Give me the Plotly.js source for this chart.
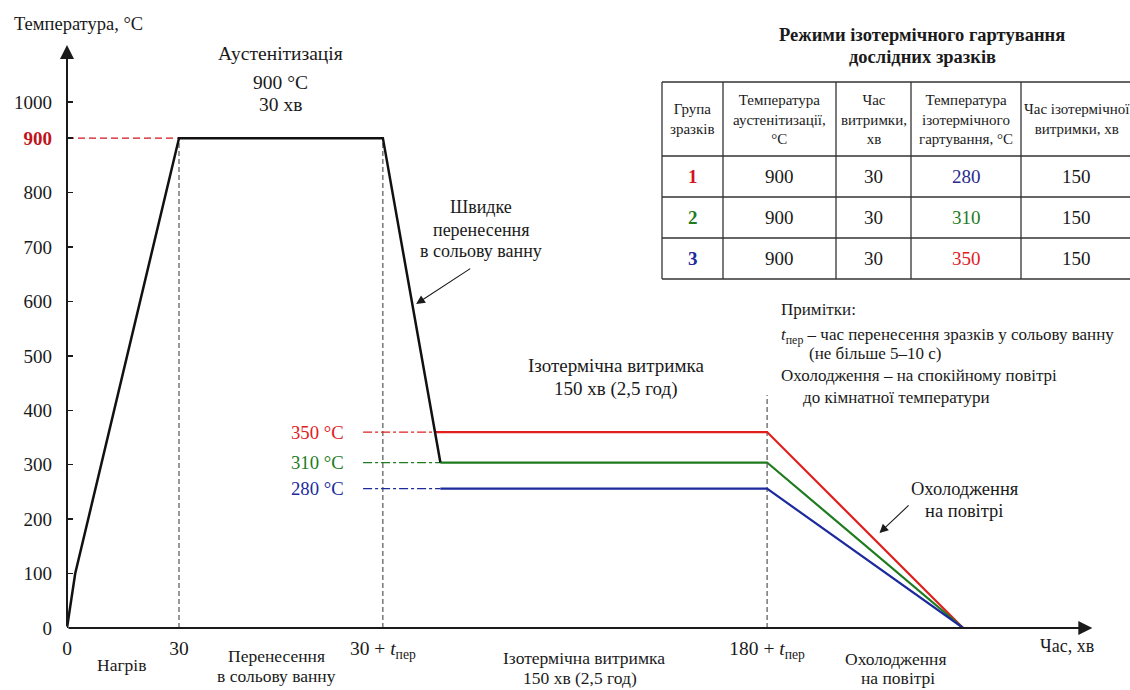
<!DOCTYPE html>
<html>
<head>
<meta charset="utf-8">
<script src="https://cdn.plot.ly/plotly-3.0.1.min.js"></script>
<style>html,body{margin:0;padding:0;background:#fff;}</style>
</head>
<body>
<div id="chart" style="width:1130px;height:690px;"></div>
<script>
// ---- data (schematic chart, positions) ----
const timeTickVals = [0, 30, 84.6, 187.5];
const timeTickText = ['0', '30', '30 + <i>t</i><sub>пер</sub>', '180 + <i>t</i><sub>пер</sub>'];
const tempTickVals = [0, 100, 200, 300, 400, 500, 600, 700, 800, 900, 966];
const tempTickText = ['0', '100', '200', '300', '400', '500', '600', '700', '800',
  '<span style="color:#c0141c"><b>900</b></span>', '1000'];

const heatTime = [0, 2.2, 30, 84.6, 100];
const heatTemp = [0, 100, 900, 900, 304];

const isoLevels = [360, 304, 256];            // drawn levels (red, green, blue)
const isoLabels = ['350 °C', '310 °C', '280 °C'];
const isoColors = ['#e0201f', '#1e7b1e', '#1c2a9c'];
const isoStart = [98.6, 100, 100];
const isoEndTime = 187.5;
const coolEndTime = 240;
const guideStart = 79.3;

const tableHeader = ['Група<br>зразків', 'Температура<br>аустенітизації,<br>°C', 'Час<br>витримки,<br>хв',
  'Температура<br>ізотермічного<br>гартування, °C', 'Час ізотермічної<br>витримки, хв'];
const groups = ['1', '2', '3'];
const groupColors = ['#d0141c', '#1e7b1e', '#1c2a9c'];
const austTemp = [900, 900, 900];
const austTime = [30, 30, 30];
const isoTemp = [280, 310, 350];
const isoTempColors = ['#2a2a90', '#1e7b1e', '#e0201f'];
const isoTime = [150, 150, 150];

// ---- layout helpers (pixel -> paper) ----
const ML = 67, MT = 45, MB = 62, W = 1130, H = 690;
const PW = W - ML, PH = H - MT - MB;
function px(x) { return (x - ML) / PW; }
function py(y) { return (H - MB - y) / PH; }

const F = '"Liberation Serif", "Times New Roman", serif';
const traces = [];
// vertical guide lines
[[30, 900], [84.6, 900], [187.5, 428]].forEach(function (g) {
  traces.push({type: 'scatter', mode: 'lines', x: [g[0], g[0]], y: [0, g[1]],
    line: {color: '#333', width: 1, dash: '5px,3px'}, hoverinfo: 'skip', showlegend: false});
});
// red 900 guide
traces.push({type: 'scatter', mode: 'lines', x: [0, 30], y: [900, 900],
  line: {color: '#d0141c', width: 1.2, dash: '7px,4px'}, hoverinfo: 'skip', showlegend: false});
// coloured dash-dot guides
isoLevels.forEach(function (lv, i) {
  traces.push({type: 'scatter', mode: 'lines', x: [guideStart, isoStart[i]], y: [lv, lv],
    line: {color: isoColors[i], width: 1.2, dash: 'dashdot'}, hoverinfo: 'skip', showlegend: false});
});
// coloured holds + cooling
isoLevels.forEach(function (lv, i) {
  traces.push({type: 'scatter', mode: 'lines', x: [isoStart[i], isoEndTime, coolEndTime], y: [lv, lv, 0],
    line: {color: isoColors[i], width: 2.2}, hoverinfo: 'skip', showlegend: false});
});
// main black path
traces.push({type: 'scatter', mode: 'lines', x: heatTime, y: heatTemp,
  line: {color: '#111', width: 2.5}, hoverinfo: 'skip', showlegend: false});

// ---- annotations ----
const ann = [];
const shapes = [];
function txt(x, y, text, size, opts) {
  const a = Object.assign({x: x, y: y, xref: 'x', yref: 'y', text: text, showarrow: false,
    font: {family: F, size: size, color: '#1a1a1a'}, xanchor: 'center', yanchor: 'middle'}, opts || {});
  ann.push(a);
}
// axes with arrowheads
ann.push({x: 0, y: 1071, ax: 0, ay: 0, xref: 'x', yref: 'y', axref: 'x', ayref: 'y', text: '',
  showarrow: true, arrowhead: 2, arrowsize: 1.4, arrowwidth: 2, arrowcolor: '#1a1a1a', standoff: 0});
ann.push({x: 274.6, y: 0, ax: 0, ay: 0, xref: 'x', yref: 'y', axref: 'x', ayref: 'y', text: '',
  showarrow: true, arrowhead: 2, arrowsize: 1.4, arrowwidth: 2, arrowcolor: '#1a1a1a', standoff: 0});
// axis titles
txt(px(12), py(24), 'Температура, °C', 18.5, {xref: 'paper', yref: 'paper', xanchor: 'left'});
txt(267.9, py(646), 'Час, хв', 18, {yref: 'paper'});
// top labels
txt(57.1, 1054.6, 'Аустенітизація', 19.5);
txt(57.1, 1003, '900 °C', 19.5);
txt(57.1, 962.7, '30 хв', 19.5);
txt(110.9, 773.5, 'Швидке', 18);
txt(110.9, 731.2, 'перенесення', 18);
txt(110.9, 692.6, 'в сольову ванну', 18);
ann.push({x: 93.5, y: 595.3, ax: 108.4, ay: 662, xref: 'x', yref: 'y', axref: 'x', ayref: 'y', text: '',
  showarrow: true, arrowhead: 2, arrowsize: 1.6, arrowwidth: 1.1, arrowcolor: '#1a1a1a', standoff: 0});
txt(147, 481.4, 'Ізотермічна витримка', 19);
txt(147, 439.1, '150 хв (2,5 год)', 19);
// notes
txt(190.7, 586, 'Примітки:', 17, {xanchor: 'left'});
txt(190.7, 536.5, '<i>t</i><sub>пер</sub> – час перенесення зразків у сольову ванну', 17, {xanchor: 'left'});
txt(198.2, 505.2, '(не більше 5–10 с)', 17, {xanchor: 'left'});
txt(190.7, 463, 'Охолодження – на спокійному повітрі', 17, {xanchor: 'left'});
txt(196.6, 422.6, 'до кімнатної температури', 17, {xanchor: 'left'});
// cooling label
txt(240.5, 255.4, 'Охолодження', 18.5);
txt(240.3, 215, 'на повітрі', 18.5);
ann.push({x: 217.6, y: 174.5, ax: 225.8, ay: 227.8, xref: 'x', yref: 'y', axref: 'x', ayref: 'y', text: '',
  showarrow: true, arrowhead: 2, arrowsize: 1.6, arrowwidth: 1.1, arrowcolor: '#1a1a1a', standoff: 0});
// level labels
isoLevels.forEach(function (lv, i) {
  txt(74.7, lv, isoLabels[i], 18.7, {xanchor: 'right', font: {family: F, size: 18.7, color: isoColors[i]}});
});
// bottom phase labels
txt(14.5, py(665), 'Нагрів', 17.5, {yref: 'paper'});
txt(56.0, py(656), 'Перенесення', 17.5, {yref: 'paper'});
txt(56.0, py(676), 'в сольову ванну', 17.5, {yref: 'paper'});
txt(138.5, py(658), 'Ізотермічна витримка', 17.5, {yref: 'paper'});
txt(137.4, py(678), '150 хв (2,5 год)', 17.5, {yref: 'paper'});
txt(222.1, py(659), 'Охолодження', 17.5, {yref: 'paper'});
txt(222.6, py(678), 'на повітрі', 17.5, {yref: 'paper'});

// ---- table (grid of shapes + cell texts from the arrays) ----
const tblLeft = 662, tblTop = 82, headH = 74, rowH = 41;
const colW = [61, 113, 75, 110, 135];
const colX = [tblLeft];
colW.forEach(function (w) { colX.push(colX[colX.length - 1] + w); });
const columns = [groups, austTemp, austTime, isoTemp, isoTime];
const colColors = [groupColors, null, null, isoTempColors, null];
const rowY = [tblTop, tblTop + headH];
for (let r = 0; r < 3; r++) rowY.push(rowY[rowY.length - 1] + rowH);
const gridLine = {color: '#333', width: 1.3};
rowY.forEach(function (y) {
  shapes.push({type: 'line', xref: 'paper', yref: 'paper', x0: px(colX[0]), x1: px(colX[colX.length - 1]),
    y0: py(y), y1: py(y), line: gridLine});
});
colX.forEach(function (x) {
  shapes.push({type: 'line', xref: 'paper', yref: 'paper', x0: px(x), x1: px(x),
    y0: py(rowY[0]), y1: py(rowY[rowY.length - 1]), line: gridLine});
});
// table title
txt(px(922), py(35), '<b>Режими ізотермічного гартування</b>', 18.5, {xref: 'paper', yref: 'paper'});
txt(px(922), py(57), '<b>дослідних зразків</b>', 18.5, {xref: 'paper', yref: 'paper'});
tableHeader.forEach(function (h, c) {
  const cx = (colX[c] + colX[c + 1]) / 2;
  txt(px(c === 4 ? cx - 12 : cx), py(tblTop + headH / 2), h, 15, {xref: 'paper', yref: 'paper', align: 'center'});
});
columns.forEach(function (col, c) {
  const cx = (colX[c] + colX[c + 1]) / 2;
  col.forEach(function (v, r) {
    const color = colColors[c] ? colColors[c][r] : '#1a1a1a';
    const t = c === 0 ? '<b>' + v + '</b>' : String(v);
    txt(px(c === 4 ? cx - 12 : cx), py(rowY[r + 1] + rowH / 2), t, 19,
      {xref: 'paper', yref: 'paper', font: {family: F, size: 19, color: color}});
  });
});

const layout = {
  width: W, height: H,
  margin: {l: ML, r: 0, t: MT, b: MB, pad: 0},
  paper_bgcolor: '#fff', plot_bgcolor: '#fff',
  font: {family: F, size: 16, color: '#1a1a1a'},
  showlegend: false,
  xaxis: {range: [0, 284.7], showgrid: false, zeroline: false, showline: false,
    tickmode: 'array', tickvals: timeTickVals, ticktext: timeTickText, ticks: '',
    tickfont: {family: F, size: 19.5, color: '#1a1a1a'}, ticklabelstandoff: 6, fixedrange: true},
  yaxis: {range: [0, 1071.1], showgrid: false, zeroline: false, showline: false,
    tickmode: 'array', tickvals: tempTickVals, ticktext: tempTickText, ticks: 'inside',
    ticklen: 6, tickwidth: 1.5, tickcolor: '#1a1a1a',
    tickfont: {family: F, size: 19, color: '#1a1a1a'}, ticklabelstandoff: 14, fixedrange: true},
  annotations: ann,
  shapes: shapes
};
Plotly.newPlot('chart', traces, layout, {displayModeBar: false, staticPlot: true});
</script>
</body>
</html>
